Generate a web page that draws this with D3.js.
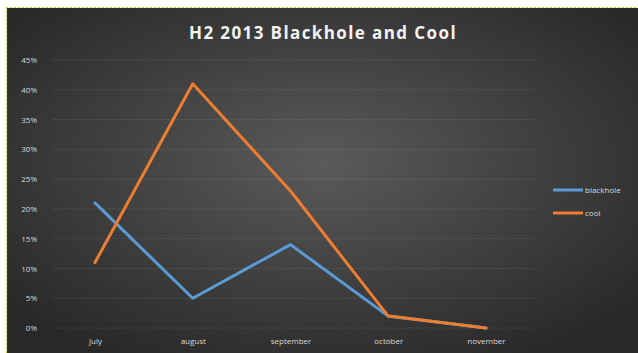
<!DOCTYPE html>
<html><head><meta charset="utf-8">
<script src="https://cdn.jsdelivr.net/npm/d3@7"></script>
<style>body{margin:0;background:#fff;}svg{display:block;}</style>
</head><body><svg id="c" width="638" height="353"></svg>
<script>
const months = ["july","august","september","october","november"];
const blackhole = [0.21,0.05,0.14,0.02,0.00];
const cool = [0.11,0.41,0.23,0.02,0.00];
const yTicks = [0,0.05,0.10,0.15,0.20,0.25,0.30,0.35,0.40,0.45];
const seriesNames = ["blackhole","cool"];
const colors = ["#5b9bd5","#ed7d31"];

const svg = d3.select("#c");
const defs = svg.append("defs");
const grad = defs.append("radialGradient").attr("id","bg").attr("cx","50%").attr("cy","45%").attr("r","65%");
grad.append("stop").attr("offset","0%").attr("stop-color","#5a5a5a");
grad.append("stop").attr("offset","100%").attr("stop-color","#282828");

svg.append("rect").attr("x",7).attr("y",8).attr("width",631).attr("height",345).attr("fill","url(#bg)");
svg.append("line").attr("x1",6).attr("x2",638).attr("y1",7.5).attr("y2",7.5).attr("stroke","#c8d800").attr("stroke-dasharray","2,2");
svg.append("line").attr("x1",6.5).attr("x2",6.5).attr("y1",7).attr("y2",353).attr("stroke","#c8d800").attr("stroke-dasharray","2,2");

const x = d3.scalePoint().domain(months).range([95,486]);
const y = d3.scaleLinear().domain([0,0.45]).range([328,60]);

// gridlines
svg.append("g").selectAll("line").data(yTicks).join("line")
  .attr("x1",52).attr("x2",535).attr("y1",d=>y(d)).attr("y2",d=>y(d))
  .attr("stroke","#ffffff").attr("stroke-opacity",0.07);

// y axis
const yAxis = d3.axisLeft(y).tickValues(yTicks).tickFormat(d3.format(".0%")).tickSize(0).tickPadding(0);
const yg = svg.append("g").attr("transform","translate(37,0)").call(yAxis);
yg.select(".domain").remove();
yg.selectAll("text").attr("fill","#d9d9d9").attr("font-family","Open Sans, sans-serif").attr("font-size",8);

// x axis
const xAxis = d3.axisBottom(x).tickSize(0).tickPadding(0);
const xg = svg.append("g").attr("transform","translate(0,338)").call(xAxis);
xg.select(".domain").remove();
xg.selectAll("text").attr("fill","#d9d9d9").attr("font-family","Open Sans, sans-serif").attr("font-size",8);

const line = d3.line().x((d,i)=>x(months[i])).y(d=>y(d));
[blackhole,cool].forEach((s,k)=>{
  svg.append("path").datum(s).attr("d",line).attr("fill","none")
    .attr("stroke",colors[k]).attr("stroke-width",3).attr("stroke-linejoin","round").attr("stroke-linecap","round");
});

// legend
const lg = svg.append("g");
seriesNames.forEach((n,k)=>{
  const ly = 190 + k*23;
  lg.append("line").attr("x1",553).attr("x2",583).attr("y1",ly).attr("y2",ly).attr("stroke",colors[k]).attr("stroke-width",3);
  lg.append("text").attr("x",585).attr("y",ly+3).text(n).attr("fill","#d9d9d9").attr("font-family","Open Sans, sans-serif").attr("font-size",8);
});

svg.append("text").attr("x",323).attr("y",39).attr("text-anchor","middle").attr("fill","#f2f2f2")
  .attr("font-family","Open Sans, sans-serif").attr("font-weight","bold").attr("font-size",17).attr("letter-spacing",1.4)
  .text("H2 2013 Blackhole and Cool");
</script></body></html>
